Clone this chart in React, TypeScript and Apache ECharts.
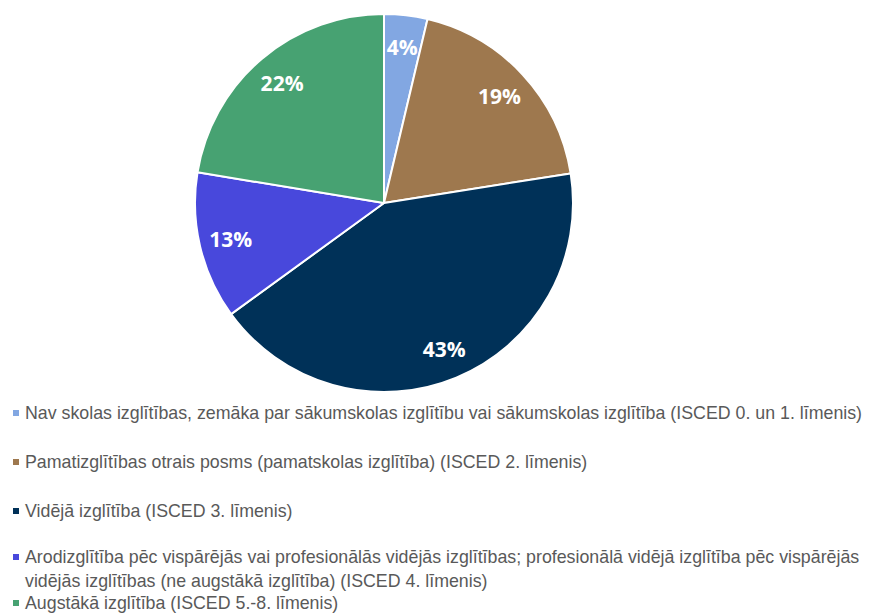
import React, { useEffect, useRef } from "react";
import * as echarts from "echarts";

const categories = [
  "Nav skolas izglītības, zemāka par sākumskolas izglītību vai sākumskolas izglītība (ISCED 0. un 1. līmenis)",
  "Pamatizglītības otrais posms (pamatskolas izglītība) (ISCED 2. līmenis)",
  "Vidējā izglītība (ISCED 3. līmenis)",
  "Arodizglītība pēc vispārējās vai profesionālās vidējās izglītības; profesionālā vidējā izglītība pēc vispārējās vidējās izglītības (ne augstākā izglītība) (ISCED 4. līmenis)",
  "Augstākā izglītība (ISCED 5.-8. līmenis)",
];
const legendLabels = [
  "Nav skolas izglītības, zemāka par sākumskolas izglītību vai sākumskolas izglītība (ISCED 0. un 1. līmenis)",
  "Pamatizglītības otrais posms (pamatskolas izglītība) (ISCED 2. līmenis)",
  "Vidējā izglītība (ISCED 3. līmenis)",
  "Arodizglītība pēc vispārējās vai profesionālās vidējās izglītības; profesionālā vidējā izglītība pēc vispārējās\nvidējās izglītības (ne augstākā izglītība) (ISCED 4. līmenis)",
  "Augstākā izglītība (ISCED 5.-8. līmenis)",
];
const shares = [3.7, 18.8, 42.5, 12.6, 22.4];
const colors = ["#82A7E2", "#9E784E", "#003158", "#4848DC", "#47A272"];

export default function App() {
  const ref = useRef<HTMLDivElement>(null);
  useEffect(() => {
    if (!ref.current) return;
    const chart = echarts.init(ref.current, undefined, { renderer: "svg" });
    const data = categories.map((name, i) => ({
      name,
      value: shares[i],
      itemStyle: { color: colors[i] },
    }));
    const iconCenters = [413, 462, 511, 557, 603];
    const legends = categories.map((name, i) => {
      const twoLine = legendLabels[i].indexOf("\n") >= 0;
      return {
        show: true,
        orient: "vertical" as const,
        left: 11,
        top: iconCenters[i] - 12,
        padding: 0,
        data: [name],
        icon: twoLine ? "path://M0 0h8v8H0z M0 31.99h0.01v0.01H0z" : "rect",
        itemWidth: 8,
        itemHeight: twoLine ? 32 : 8,
        itemGap: 0,
        selectedMode: false,
        formatter: (n: string) => legendLabels[categories.indexOf(n)],
        textStyle: {
          fontFamily: "'Liberation Sans', Arial, sans-serif",
          fontSize: 17.8,
          color: "#595959",
          lineHeight: 24,
        },
      };
    });
    chart.setOption({
      animation: false,
      backgroundColor: "#ffffff",
      legend: legends,
      series: [
        {
          type: "pie",
          center: [384, 203],
          radius: [0, 189],
          startAngle: 90,
          clockwise: true,
          data,
          label: { show: false },
          labelLine: { show: false },
          itemStyle: { borderColor: "#ffffff", borderWidth: 2 },
          emphasis: { disabled: true },
          silent: true,
        },
        {
          type: "pie",
          center: [384, 203],
          radius: [120, 189],
          startAngle: 90,
          clockwise: true,
          data: categories.map((name, i) => ({ name, value: shares[i] })),
          itemStyle: { color: "rgba(0,0,0,0)", borderWidth: 0 },
          label: {
            show: true,
            position: "inside",
            formatter: (p: any) => Math.round(p.value) + "%",
            color: "#ffffff",
            fontFamily: "'Open Sans', sans-serif",
            fontWeight: "bold",
            fontSize: 21,
          },
          labelLine: { show: false },
          emphasis: { disabled: true },
          silent: true,
        },
      ],
    });
    return () => chart.dispose();
  }, []);
  return (
    <div
      ref={ref}
      style={{ position: "fixed", left: 0, top: 0, width: 885, height: 613 }}
    />
  );
}
